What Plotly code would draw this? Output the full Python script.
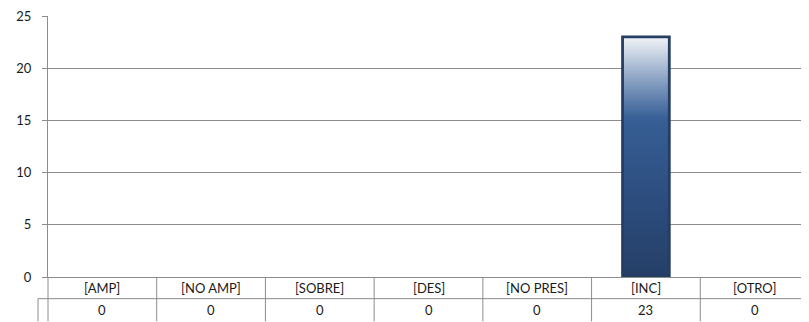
import plotly.graph_objects as go
from plotly.colors import sample_colorscale

categories = ["[AMP]", "[NO AMP]", "[SOBRE]", "[DES]", "[NO PRES]", "[INC]", "[OTRO]"]
values = [0, 0, 0, 0, 0, 23, 0]
y_ticks = [0, 5, 10, 15, 20, 25]

# browser page adds an 8px body margin; compensate so the chart fills 809x322
BODY = 8
W, H = 809 - BODY, 322 - BODY
ML, MR, MT, MB = 48 - BODY, 0, 12 - BODY, 45
plot_h = H - MT - MB
plot_w = W - ML - MR

grid = "#8c8c8c"
font = dict(family="Lato, Carlito, Liberation Sans, sans-serif", size=13, color="#1a1a1a")

colorscale = [
    [0.0, "#253f67"],
    [0.35, "#2d4e80"],
    [0.66, "#375f95"],
    [0.80, "#7e98bd"],
    [0.90, "#b8c6da"],
    [1.0, "#f1f3f7"],
]

fig = go.Figure()

# gradient fill built from overlapping stacked slices of each bar value
N = 120
for cat, v in zip(categories, values):
    if v <= 0:
        continue
    seg = v / N
    bases = [i * seg for i in range(N)]
    heights = [min(3 * seg, v - b) for b in bases]
    cols = sample_colorscale(colorscale, [(i + 0.5) / N for i in range(N)])
    fig.add_trace(go.Bar(
        x=[cat] * N, y=heights, base=bases,
        marker=dict(color=cols, line=dict(width=0)),
        width=0.43, hoverinfo="skip", showlegend=False,
    ))

# outline (only for non-zero bars)
fig.add_trace(go.Bar(
    x=categories, y=values, width=0.43,
    marker=dict(color="rgba(0,0,0,0)",
                line=dict(color="#253e63", width=[2.8 if v > 0 else 0 for v in values])),
    showlegend=False,
))

fig.update_layout(
    width=W, height=H,
    margin=dict(l=ML, r=MR, t=MT, b=MB),
    paper_bgcolor="white", plot_bgcolor="white",
    barmode="overlay",
    font=font,
    xaxis=dict(
        type="category", categoryarray=categories, range=[-0.5, len(categories) - 0.5],
        showticklabels=False, showgrid=False, zeroline=False,
        showline=True, linecolor=grid, linewidth=1, ticks="",
    ),
    yaxis=dict(
        range=[0, 25], tickvals=y_ticks, ticktext=[str(t) for t in y_ticks],
        showgrid=True, gridcolor=grid, gridwidth=1, zeroline=False,
        showline=True, linecolor=grid, linewidth=1,
        ticks="outside", ticklen=5, tickcolor=grid, tickwidth=1,
        ticklabelstandoff=8, ticklabeloverflow="allow",
        tickfont=font,
    ),
)

# data table beneath the axis
row1 = -22 / plot_h
row2 = -45 / plot_h
stub = -10 / plot_w
n = len(categories)
shapes = []
shapes.append(dict(type="line", xref="x domain", yref="paper", x0=stub, x1=1, y0=row1, y1=row1,
                   line=dict(color=grid, width=1)))
shapes.append(dict(type="line", xref="x domain", yref="paper", x0=stub, x1=stub, y0=row1, y1=row2,
                   line=dict(color=grid, width=1)))
for i in range(n):
    shapes.append(dict(type="line", xref="x domain", yref="paper", x0=i / n, x1=i / n, y0=0, y1=row2,
                       line=dict(color=grid, width=1)))
fig.update_layout(shapes=shapes)

ann = []
for i, (cat, v) in enumerate(zip(categories, values)):
    ann.append(dict(xref="x domain", yref="paper", x=(i + 0.5) / n, y=row1 / 2, text=cat,
                    showarrow=False, xanchor="center", yanchor="middle", font=font))
    ann.append(dict(xref="x domain", yref="paper", x=(i + 0.5) / n, y=(row1 + row2) / 2, text=str(v),
                    showarrow=False, xanchor="center", yanchor="middle", font=font))
fig.update_layout(annotations=ann)

fig.write_html("out.html")
